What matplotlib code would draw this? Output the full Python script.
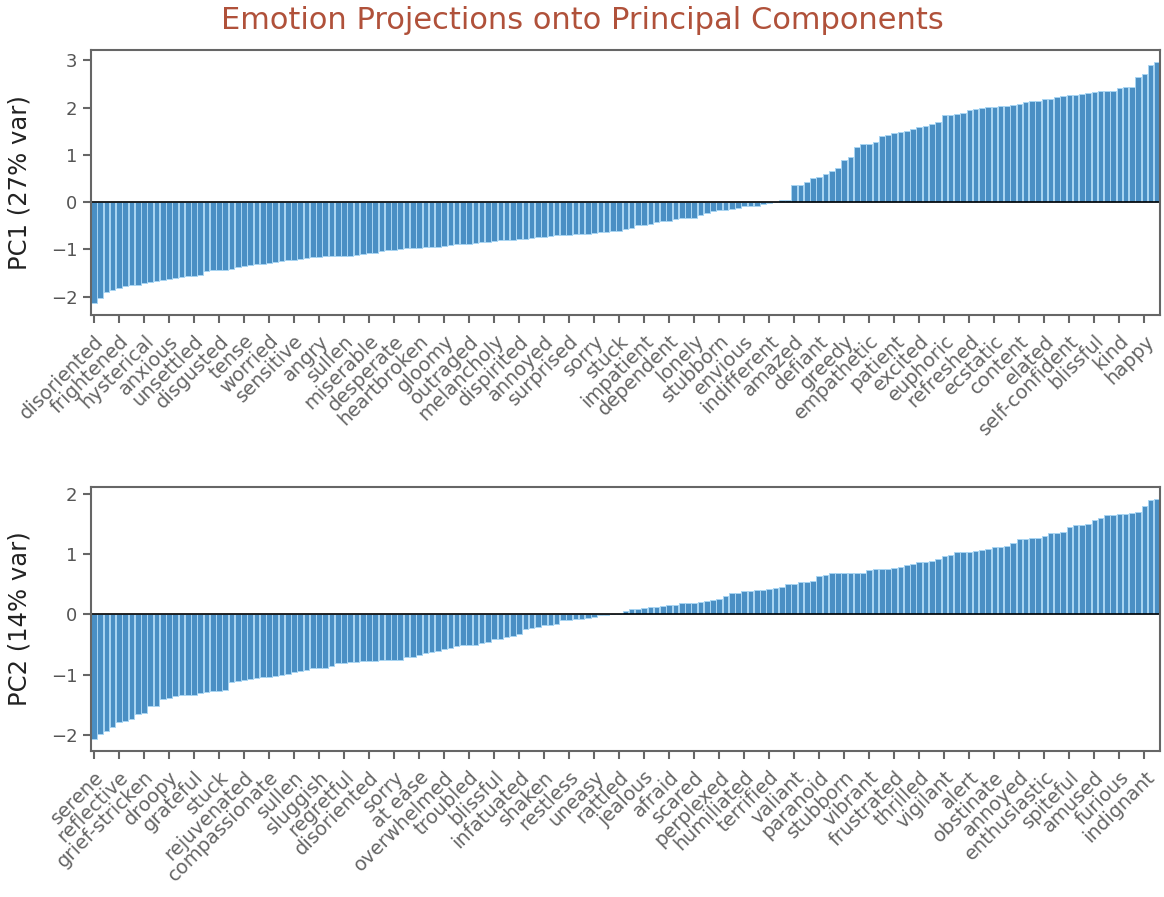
import matplotlib
matplotlib.use("Agg")
import matplotlib.pyplot as plt
import numpy as np

plt.rcParams['font.family'] = ['DejaVu Sans']

# PC1 projections, sorted ascending (171 emotions)
pc1_values = [
    -2.13, -2.03, -1.90, -1.85, -1.81, -1.77, -1.76, -1.76, -1.71, -1.69,
    -1.66, -1.65, -1.62, -1.60, -1.58, -1.57, -1.57, -1.55, -1.45, -1.44,
    -1.43, -1.43, -1.41, -1.38, -1.35, -1.32, -1.30, -1.30, -1.29, -1.27,
    -1.24, -1.23, -1.22, -1.20, -1.18, -1.16, -1.16, -1.14, -1.13, -1.13,
    -1.13, -1.13, -1.11, -1.09, -1.08, -1.07, -1.03, -1.01, -1.01, -0.99,
    -0.98, -0.97, -0.96, -0.95, -0.94, -0.94, -0.93, -0.91, -0.89, -0.89,
    -0.88, -0.87, -0.85, -0.84, -0.82, -0.81, -0.80, -0.80, -0.79, -0.77,
    -0.75, -0.74, -0.73, -0.72, -0.70, -0.69, -0.69, -0.68, -0.67, -0.67,
    -0.65, -0.64, -0.63, -0.62, -0.61,
    -0.57, -0.55, -0.49, -0.48, -0.46, -0.43, -0.40, -0.39, -0.35, -0.33,
    -0.33, -0.33, -0.27, -0.24, -0.18, -0.16, -0.16, -0.15, -0.12, -0.09,
    -0.09, -0.09, -0.03, -0.01, 0.01, 0.04, 0.04,
    0.36, 0.36, 0.43, 0.51, 0.53, 0.60, 0.65, 0.73, 0.89, 0.96,
    1.16, 1.24, 1.24, 1.27, 1.41, 1.43, 1.47, 1.48, 1.50, 1.54,
    1.58, 1.62, 1.65, 1.70, 1.84, 1.85, 1.87, 1.88, 1.94, 1.97,
    1.99, 2.01, 2.01, 2.04, 2.04, 2.05, 2.08, 2.11, 2.14, 2.14,
    2.18, 2.18, 2.23, 2.24, 2.26, 2.26, 2.29, 2.32, 2.34, 2.35,
    2.35, 2.35, 2.41, 2.43, 2.43, 2.64, 2.72, 2.90, 2.96,
]

# PC2 projections, sorted ascending
pc2_values = [
    -2.06, -1.98, -1.93, -1.86, -1.78, -1.76, -1.74, -1.65, -1.63, -1.51,
    -1.51, -1.40, -1.38, -1.35, -1.34, -1.33, -1.33, -1.30, -1.29, -1.27,
    -1.27, -1.25, -1.12, -1.10, -1.08, -1.07, -1.05, -1.04, -1.03, -1.02,
    -1.01, -0.98, -0.96, -0.94, -0.92, -0.89, -0.88, -0.88, -0.86, -0.80,
    -0.80, -0.78, -0.78, -0.77, -0.77, -0.77, -0.76, -0.76, -0.76, -0.75,
    -0.71, -0.70, -0.67, -0.64, -0.62, -0.60, -0.57, -0.56, -0.53, -0.51,
    -0.51, -0.50, -0.48, -0.45, -0.41, -0.40, -0.38, -0.35, -0.33, -0.25,
    -0.23, -0.21, -0.18, -0.18, -0.16, -0.10, -0.10, -0.08, -0.08, -0.06,
    -0.04, -0.01, -0.005, 0.0, 0.005,
    0.06, 0.09, 0.09, 0.11, 0.12, 0.12, 0.14, 0.15, 0.16, 0.19,
    0.19, 0.19, 0.21, 0.23, 0.24, 0.25, 0.30, 0.35, 0.36, 0.38,
    0.39, 0.40, 0.40, 0.42, 0.44, 0.46, 0.50, 0.51, 0.54, 0.54,
    0.55, 0.63, 0.65, 0.68, 0.68, 0.69, 0.69, 0.69, 0.69, 0.74,
    0.75, 0.75, 0.76, 0.77, 0.79, 0.81, 0.84, 0.86, 0.86, 0.88,
    0.92, 0.96, 0.99, 1.03, 1.04, 1.04, 1.05, 1.07, 1.08, 1.11,
    1.12, 1.13, 1.19, 1.25, 1.25, 1.26, 1.27, 1.30, 1.34, 1.35,
    1.37, 1.45, 1.48, 1.48, 1.49, 1.57, 1.59, 1.64, 1.64, 1.66,
    1.67, 1.68, 1.70, 1.80, 1.89, 1.91,
]

# every 4th emotion is labelled
pc1_labels = [
    "disoriented", "frightened", "hysterical", "anxious", "unsettled",
    "disgusted", "tense", "worried", "sensitive", "angry", "sullen",
    "miserable", "desperate", "heartbroken", "gloomy", "outraged",
    "melancholy", "dispirited", "annoyed", "surprised", "sorry", "stuck",
    "impatient", "dependent", "lonely", "stubborn", "envious", "indifferent",
    "amazed", "defiant", "greedy", "empathetic", "patient", "excited",
    "euphoric", "refreshed", "ecstatic", "content", "elated",
    "self-confident", "blissful", "kind", "happy",
]
pc2_labels = [
    "serene", "reflective", "grief-stricken", "droopy", "grateful", "stuck",
    "rejuvenated", "compassionate", "sullen", "sluggish", "regretful",
    "disoriented", "sorry", "at ease", "overwhelmed", "troubled", "blissful",
    "infatuated", "shaken", "restless", "uneasy", "rattled", "jealous",
    "afraid", "scared", "perplexed", "humiliated", "terrified", "valiant",
    "paranoid", "stubborn", "vibrant", "frustrated", "thrilled", "vigilant",
    "alert", "obstinate", "annoyed", "enthusiastic", "spiteful", "amused",
    "furious", "indignant",
]
ylabels = ["PC1 (27% var)", "PC2 (14% var)"]

fig = plt.figure(figsize=(11.64, 8.97), dpi=100)
ax1 = fig.add_axes([0.078, 0.649, 0.9186, 0.295])
ax2 = fig.add_axes([0.078, 0.163, 0.9186, 0.294])

for ax, vals, labs, yl in [(ax1, pc1_values, pc1_labels, ylabels[0]),
                           (ax2, pc2_values, pc2_labels, ylabels[1])]:
    x = np.arange(len(vals))
    ax.bar(x, vals, width=0.9, color="#4a8fc4", edgecolor="#a9d5f2",
           linewidth=0.7)
    ax.axhline(0, color="black", lw=1.2)
    ax.set_xlim(-0.5, len(vals) - 0.5)
    ax.set_xticks(x[::4])
    ax.set_xticklabels(labs, rotation=45, ha="right", rotation_mode="anchor",
                       fontsize=14, color="#555555")
    ax.set_ylabel(yl, fontsize=17.5, color="#222222", labelpad=14)
    ax.tick_params(axis="y", labelsize=13, labelcolor="#555555")
    ax.tick_params(axis="x", pad=6)
    ax.tick_params(colors="#666666", length=6, width=1.5)
    for lab in ax.get_yticklabels():
        lab.set_color("#555555")
    for sp in ax.spines.values():
        sp.set_color("#666666")
        sp.set_linewidth(1.5)

fig.suptitle("Emotion Projections onto Principal Components", fontsize=22,
             color="#b0513a", y=0.993)

plt.savefig("out.png", dpi=100)
